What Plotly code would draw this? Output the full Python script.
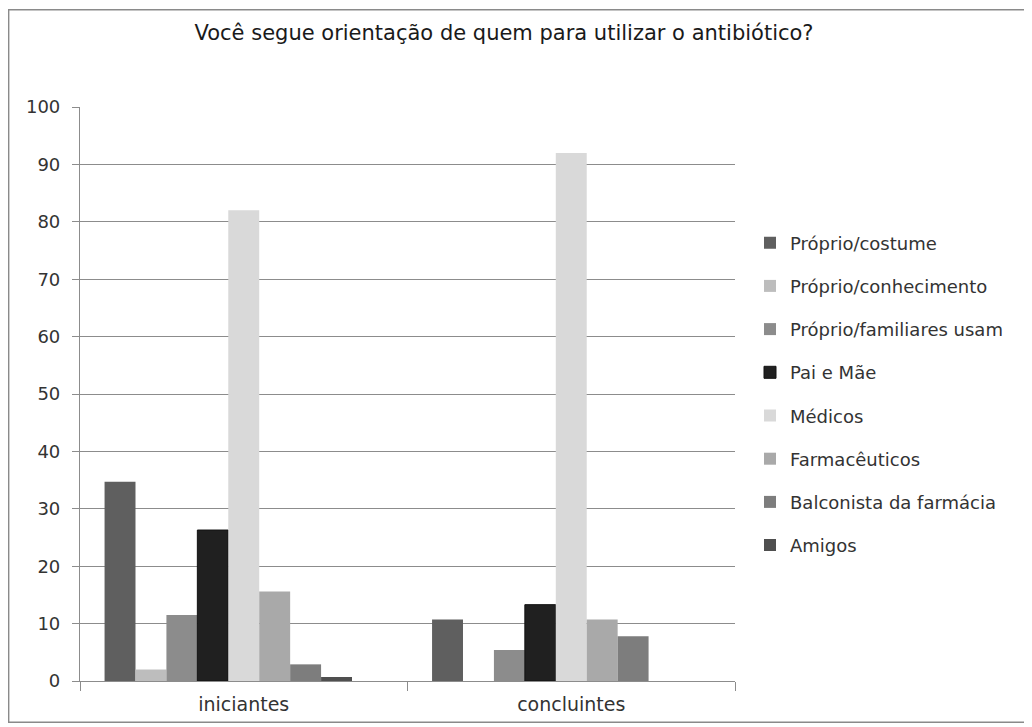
import plotly.graph_objects as go

categories = ["iniciantes", "concluintes"]
series_names = ["Próprio/costume", "Próprio/conhecimento", "Próprio/familiares usam",
                "Pai e Mãe", "Médicos", "Farmacêuticos", "Balconista da farmácia", "Amigos"]
values = {
    "Próprio/costume": [34.7, 10.7],
    "Próprio/conhecimento": [2.0, 0],
    "Próprio/familiares usam": [11.5, 5.4],
    "Pai e Mãe": [26.3, 13.3],
    "Médicos": [82.0, 92.0],
    "Farmacêuticos": [15.6, 10.7],
    "Balconista da farmácia": [2.9, 7.8],
    "Amigos": [0.7, 0],
}
colors = ["#5f5f5f", "#bdbdbd", "#8c8c8c", "#202020", "#d9d9d9", "#a9a9a9", "#7d7d7d", "#4f4f4f"]
y_ticks = [0, 10, 20, 30, 40, 50, 60, 70, 80, 90, 100]

FONT = "DejaVu Sans"
TXT = "#333333"
fig = go.Figure()
for i, name in enumerate(series_names):
    fig.add_trace(go.Bar(
        x=categories, y=values[name], name=name,
        marker=dict(color=colors[i], line=dict(width=1 if i == 3 else 0, color="#111111")),
        legendgroup=f"g{i}",
    ))
# empty slot (the source chart reserves one more, empty, series position)
fig.add_trace(go.Bar(x=categories, y=[None, None], showlegend=False, hoverinfo="skip"))

W, H = 1024, 719
L, R, T, B = 72, 297, 99, 42
pw, ph = W - L - R, H - T - B
fig.update_layout(
    width=W, height=H,
    paper_bgcolor="white", plot_bgcolor="white",
    barmode="group", bargap=0.15, bargroupgap=0,
    margin=dict(l=L, r=R, t=T, b=B),
    title=dict(text="Você segue orientação de quem para utilizar o antibiótico?",
               x=496 / W, xanchor="center", y=1 - 25 / H, yanchor="middle",
               font=dict(family=FONT, size=21, color="#1a1a1a")),
    font=dict(family=FONT, size=18, color=TXT),
    legend=dict(x=(742 - L) / pw, xanchor="left", y=0.5, yanchor="middle",
                tracegroupgap=16.8, font=dict(family=FONT, size=18, color=TXT),
                itemwidth=30, bgcolor="rgba(0,0,0,0)"),
    shapes=[dict(type="rect", xref="paper", yref="paper",
                 x0=-L / pw + 0.001, x1=1 + R / pw - 0.002,
                 y0=-B / ph + 0.001, y1=1 + T / ph - 0.002,
                 line=dict(color="#8a8a8a", width=1.5), layer="below")],
)
fig.update_yaxes(range=[0, 100], tickvals=y_ticks, showgrid=True, gridcolor="#8c8c8c", gridwidth=1.2,
                 showline=True, linecolor="#8c8c8c", linewidth=1.2, ticks="outside", ticklen=7,
                 tickcolor="#8c8c8c", zeroline=False, ticklabelstandoff=8,
                 tickfont=dict(family=FONT, size=18, color=TXT))
fig.update_xaxes(showline=True, linecolor="#8c8c8c", linewidth=1.2, ticks="outside", ticklen=9,
                 tickcolor="#8c8c8c", tickson="boundaries", ticklabelstandoff=6,
                 tickfont=dict(family=FONT, size=19, color=TXT))

fig.write_html("out.html")
